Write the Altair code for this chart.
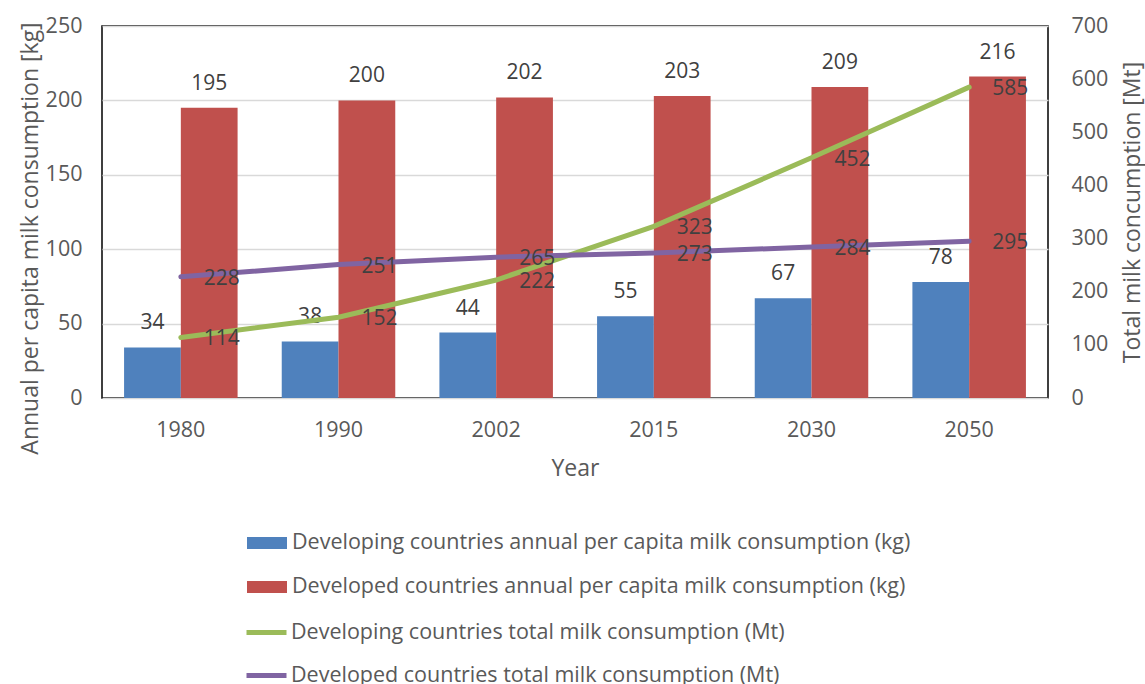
import altair as alt
import pandas as pd

# Milk consumption by year: per-capita bars (left axis) and totals (right axis)
years = ["1980", "1990", "2002", "2015", "2030", "2050"]

bar_series = [
    "Developing countries annual per capita milk consumption (kg)",
    "Developed countries annual per capita milk consumption (kg)",
]
developing_per_capita = [34, 38, 44, 55, 67, 78]
developed_per_capita = [195, 200, 202, 203, 209, 216]

line_series = [
    "Developing countries total milk consumption (Mt)",
    "Developed countries total milk consumption (Mt)",
]
developing_total = [114, 152, 222, 323, 452, 585]
developed_total = [228, 251, 265, 273, 284, 295]

bar_colors = ["#4F81BD", "#C0504D"]
line_colors = ["#9BBB59", "#8064A2"]

bars_df = pd.DataFrame(
    [{"year": y, "series": bar_series[0], "value": v} for y, v in zip(years, developing_per_capita)]
    + [{"year": y, "series": bar_series[1], "value": v} for y, v in zip(years, developed_per_capita)]
)
lines_df = pd.DataFrame(
    [{"year": y, "series": line_series[0], "value": v} for y, v in zip(years, developing_total)]
    + [{"year": y, "series": line_series[1], "value": v} for y, v in zip(years, developed_total)]
)

FONT = "Open Sans"
AXIS_GREY = "#595959"
LABEL_DARK = "#404040"

x_enc = alt.X(
    "year:N",
    sort=years,
    scale=alt.Scale(paddingInner=0.28, paddingOuter=0.14),
    axis=alt.Axis(
        title="Year", labelAngle=0, ticks=False, domain=False, grid=False,
        labelPadding=21, titleX=473, titleY=70, titleBaseline="middle",
    ),
)
offset_enc = alt.XOffset("series:N", sort=bar_series, scale=alt.Scale(domain=bar_series))

y_left = alt.Y(
    "value:Q",
    scale=alt.Scale(domain=[0, 250]),
    axis=alt.Axis(
        title="Annual per capita milk consumption [kg]", values=[0, 50, 100, 150, 200, 250],
        grid=True, gridColor="#D9D9D9", gridWidth=1.3, ticks=False, domain=False,
        labelPadding=20, titleX=-72, titleY=212, titleAngle=270,
        titleAlign="center", titleBaseline="middle",
    ),
)
y_right = alt.Y(
    "value:Q",
    scale=alt.Scale(domain=[0, 700]),
    axis=alt.Axis(
        title="Total milk concumption [Mt]", orient="right",
        values=[0, 100, 200, 300, 400, 500, 600, 700],
        grid=False, ticks=False, domain=False, labelPadding=23,
        titleX=84, titleY=186, titleAngle=270,
        titleAlign="center", titleBaseline="middle",
    ),
)

bars = alt.Chart(bars_df).mark_bar().encode(
    x=x_enc,
    xOffset=offset_enc,
    y=y_left,
    fill=alt.Fill(
        "series:N",
        sort=bar_series,
        scale=alt.Scale(domain=bar_series, range=bar_colors),
        legend=alt.Legend(
            title=None, orient="none", legendX=145, legendY=497, direction="vertical",
            symbolType="M-1,-0.3H1V0.3H-1Z", symbolSize=1600, symbolStrokeWidth=0,
            labelOffset=5, rowPadding=13, padding=0,
        ),
    ),
)
bar_labels = alt.Chart(bars_df).mark_text(
    baseline="bottom", dy=-14, fontSize=21, font=FONT, color=LABEL_DARK
).encode(x=x_enc, xOffset=offset_enc, y=y_left, text="value:Q")

left_layer = alt.layer(bars, bar_labels)

lines = alt.Chart(lines_df).mark_line(strokeWidth=5, strokeCap="round").encode(
    x=x_enc,
    y=y_right,
    stroke=alt.Stroke(
        "series:N",
        sort=line_series,
        scale=alt.Scale(domain=line_series, range=line_colors),
        legend=alt.Legend(
            title=None, orient="none", legendX=142, legendY=584, direction="vertical",
            symbolType="M-1,0H1", symbolSize=1600, symbolStrokeWidth=5,
            labelOffset=2, rowPadding=10, padding=0,
        ),
    ),
)
line_labels = alt.Chart(lines_df).mark_text(
    align="left", baseline="middle", dx=23, dy=2, fontSize=21, font=FONT, color=LABEL_DARK
).encode(x=x_enc, y=y_right, text="value:Q")

right_layer = alt.layer(lines, line_labels)

chart = (
    alt.layer(left_layer, right_layer)
    .resolve_scale(y="independent")
    .properties(
        width=946,
        height=372,
        autosize=alt.AutoSizeParams(type="none"),
        padding={"left": 102, "top": 26, "right": 97, "bottom": 286},
    )
    .configure_view(stroke="#000000", strokeWidth=1.5)
    .configure_axis(
        labelFont=FONT, labelFontSize=21.5, labelColor=AXIS_GREY,
        titleFont=FONT, titleFontSize=23, titleColor=AXIS_GREY, titleFontWeight="normal",
    )
    .configure_legend(
        labelFont=FONT, labelFontSize=21.5, labelColor=AXIS_GREY, labelLimit=0,
    )
)

chart.save("out.html", embed_options={"renderer": "svg", "actions": False})
